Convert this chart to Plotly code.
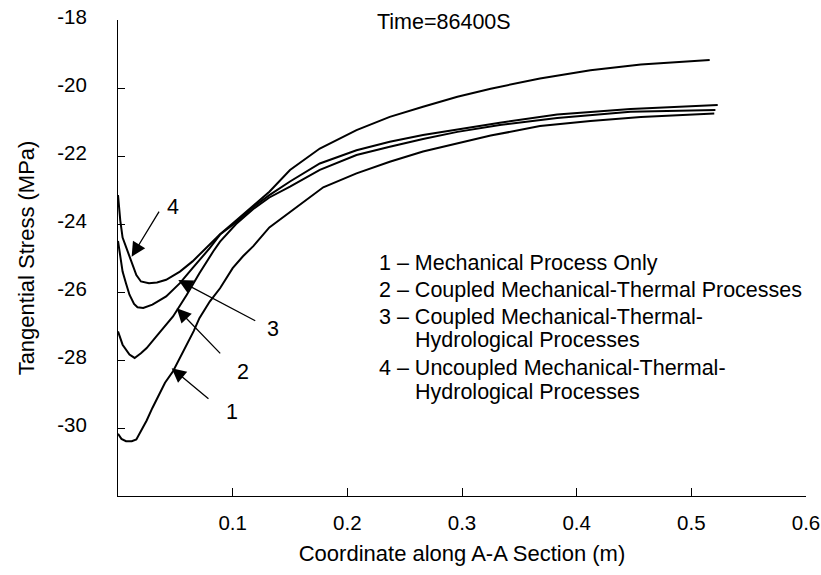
import plotly.graph_objects as go

# ---- data ----
x1 = [0, 0.003, 0.007, 0.012, 0.016, 0.020, 0.025, 0.030, 0.036, 0.041, 0.048, 0.054, 0.060, 0.066, 0.071,
      0.080, 0.089, 0.100, 0.109, 0.118, 0.132, 0.147, 0.165, 0.179, 0.208, 0.237, 0.266, 0.296, 0.325,
      0.368, 0.412, 0.456, 0.520]
y1 = [-30.17, -30.32, -30.39, -30.39, -30.34, -30.10, -29.78, -29.41, -29.0, -28.67, -28.33, -27.95, -27.55,
      -27.15, -26.77, -26.28, -25.89, -25.3, -24.95, -24.65, -24.1, -23.72, -23.25, -22.92, -22.51, -22.17,
      -21.87, -21.63, -21.40, -21.12, -20.97, -20.85, -20.75]

x2 = [0, 0.004, 0.010, 0.0145, 0.020, 0.025, 0.036, 0.048, 0.060, 0.071, 0.083, 0.089, 0.103, 0.118, 0.132,
      0.150, 0.176, 0.208, 0.237, 0.266, 0.296, 0.333, 0.383, 0.447, 0.521]
y2 = [-27.16, -27.55, -27.84, -27.94, -27.8, -27.65, -27.2, -26.72, -26.08, -25.45, -24.81, -24.52, -24.0,
      -23.56, -23.22, -22.9, -22.41, -21.97, -21.73, -21.50, -21.29, -21.09, -20.88, -20.70, -20.65]

x3 = [0, 0.002, 0.004, 0.007, 0.010, 0.014, 0.017, 0.022, 0.030, 0.042, 0.054, 0.065, 0.080, 0.089, 0.103,
      0.118, 0.132, 0.150, 0.176, 0.208, 0.237, 0.266, 0.296, 0.333, 0.383, 0.447, 0.523]
y3 = [-24.5, -25.0, -25.4, -25.75, -26.08, -26.35, -26.45, -26.47, -26.37, -26.13, -25.74, -25.3, -24.71,
      -24.31, -23.95, -23.5, -23.15, -22.75, -22.22, -21.83, -21.58, -21.38, -21.21, -21.02, -20.78, -20.62,
      -20.5]

x4 = [0, 0.002, 0.004, 0.008, 0.012, 0.016, 0.020, 0.027, 0.034, 0.042, 0.054, 0.065, 0.074, 0.089, 0.103,
      0.118, 0.132, 0.150, 0.176, 0.208, 0.237, 0.266, 0.296, 0.325, 0.368, 0.412, 0.456, 0.516]
y4 = [-23.15, -23.9, -24.4, -24.75, -25.1, -25.5, -25.69, -25.74, -25.72, -25.64, -25.4, -25.1, -24.8,
      -24.3, -23.9, -23.45, -23.05, -22.41, -21.78, -21.24, -20.85, -20.55, -20.26, -20.02, -19.72, -19.48,
      -19.31, -19.18]

x_ticks = [0.1, 0.2, 0.3, 0.4, 0.5, 0.6]
x_ticklabels = ["0.1", "0.2", "0.3", "0.4", "0.5", "0.6"]
y_ticks = [-18, -20, -22, -24, -26, -28, -30]
y_ticklabels = ["-18", "-20", "-22", "-24", "-26", "-28", "-30"]

curve_ids = ["1", "2", "3", "4"]
# label position, arrow tail, arrow tip (data coords)
label_pos = [(0.0992, -29.52), (0.1093, -28.34), (0.1354, -27.10), (0.0482, -23.49)]
arrow_tail = [(0.0802, -29.18), (0.0904, -27.85), (0.121, -26.87), (0.0366, -23.59)]
arrow_tip = [(0.0468, -28.24), (0.0512, -26.48), (0.0526, -25.65), (0.0119, -24.96)]

legend_lines = ["1 \u2013 Mechanical Process Only",
                "2 \u2013 Coupled Mechanical-Thermal Processes",
                "3 \u2013 Coupled Mechanical-Thermal-",
                "Hydrological Processes",
                "4 \u2013 Uncoupled Mechanical-Thermal-",
                "Hydrological Processes"]
legend_indent = [False, False, False, True, False, True]
legend_y = [-25.16, -25.94, -26.74, -27.41, -28.24, -28.93]

title_text = "Time=86400S"
x_title = "Coordinate along A-A Section (m)"
y_title = "Tangential Stress (MPa)"

FONT = "Arial, 'Liberation Sans', sans-serif"

fig = go.Figure()
for xs, ys, cid in zip([x1, x2, x3, x4], [y1, y2, y3, y4], curve_ids):
    fig.add_trace(go.Scatter(x=xs, y=ys, mode="lines", name=cid,
                             line=dict(color="black", width=2), showlegend=False))

annotations = []
for cid, lp, tail, tip in zip(curve_ids, label_pos, arrow_tail, arrow_tip):
    annotations.append(dict(x=lp[0], y=lp[1], xref="x", yref="y", text=cid, showarrow=False,
                            font=dict(family=FONT, size=21.5, color="black")))
    annotations.append(dict(x=tip[0], y=tip[1], ax=tail[0], ay=tail[1], xref="x", yref="y",
                            axref="x", ayref="y", text="", showarrow=True, arrowhead=2,
                            arrowsize=2.2, arrowwidth=1.3, arrowcolor="black"))

for line, ind, ly in zip(legend_lines, legend_indent, legend_y):
    annotations.append(dict(x=0.2573 if ind else 0.2259, y=ly, xref="x", yref="y", text=line,
                            showarrow=False, xanchor="left", yanchor="middle",
                            font=dict(family=FONT, size=21.5, color="black")))

annotations.append(dict(x=0.284, y=-18.06, xref="x", yref="y", text=title_text, showarrow=False,
                        xanchor="center", yanchor="middle",
                        font=dict(family=FONT, size=21.5, color="black")))

fig.update_layout(
    width=821, height=575,
    margin=dict(l=118, r=15, t=20, b=79),
    paper_bgcolor="white", plot_bgcolor="white",
    font=dict(family=FONT, size=20.5, color="black"),
    annotations=annotations,
    xaxis=dict(range=[0, 0.6], tickvals=x_ticks, ticktext=x_ticklabels, ticks="inside", ticklen=8,
               tickcolor="black", showline=True, linecolor="black", linewidth=1, showgrid=False,
               zeroline=False, ticklabelstandoff=8, automargin=False,
               title=dict(text=x_title, font=dict(family=FONT, size=22), standoff=13)),
    yaxis=dict(range=[-32, -18], tickvals=y_ticks, ticktext=y_ticklabels, ticks="inside", ticklen=7,
               tickcolor="black", showline=True, linecolor="black", linewidth=1, showgrid=False,
               zeroline=False, ticklabelstandoff=26, ticklabelshift=-3, automargin=False,
               title=dict(text=y_title, font=dict(family=FONT, size=22), standoff=16)),
)

fig.write_html("out.html", config={"displayModeBar": False},
               post_script="document.body.style.margin='0';")
